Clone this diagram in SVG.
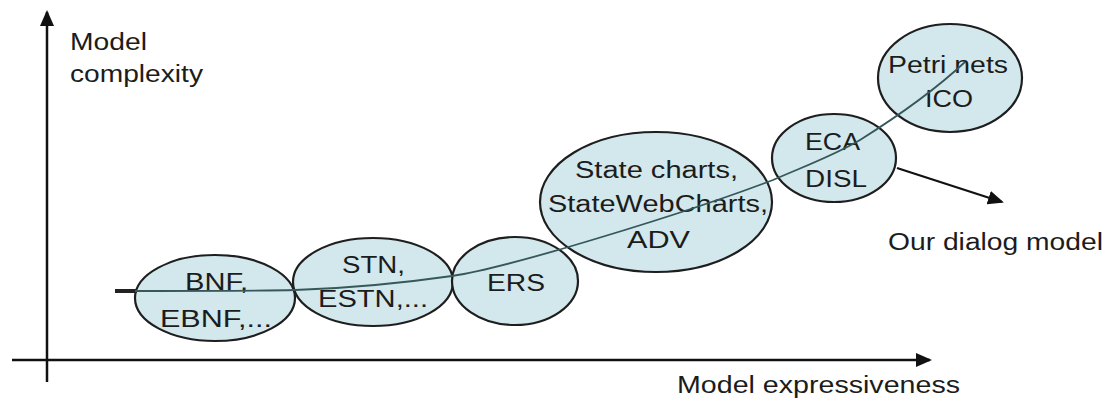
<svg xmlns="http://www.w3.org/2000/svg" width="1110" height="401" viewBox="0 0 1110 401">
<style>
.n{fill:#d2e8ec;stroke:#1e1e1e;stroke-width:2.2}
.t{font-family:"Liberation Sans",Arial,sans-serif;font-size:23px;fill:#1c1c1c}
.ax{stroke:#111;stroke-width:2.5;fill:none}
.cv{stroke:#36585a;stroke-width:1.8;fill:none}
</style>
<defs>
<marker id="ah" markerWidth="10" markerHeight="10" refX="8" refY="5" orient="auto" markerUnits="userSpaceOnUse" viewBox="0 0 10 10">
<path d="M0,0 L10,5 L0,10 z" fill="#111"/>
</marker>
<marker id="ah2" markerWidth="16" markerHeight="14" refX="14" refY="7" orient="auto" markerUnits="userSpaceOnUse" viewBox="0 0 16 14">
<path d="M0,0 L16,7 L0,14 z" fill="#111"/>
</marker>
</defs>
<g id="axes">
<line class="ax" x1="47" y1="382" x2="47" y2="12" marker-end="url(#ah2)"/>
<line class="ax" x1="12" y1="360" x2="930" y2="360" marker-end="url(#ah2)"/>
<text class="t" x="70" y="50" textLength="77" lengthAdjust="spacingAndGlyphs">Model</text>
<text class="t" x="70" y="82" textLength="133" lengthAdjust="spacingAndGlyphs">complexity</text>
<text class="t" x="677" y="393" textLength="283" lengthAdjust="spacingAndGlyphs">Model expressiveness</text>
</g>
<g id="node-bnf">
<ellipse class="n" cx="215" cy="298" rx="80" ry="43"/>
<text class="t" x="185" y="290" textLength="63" lengthAdjust="spacingAndGlyphs">BNF,</text>
<text class="t" x="160" y="327" textLength="112" lengthAdjust="spacingAndGlyphs">EBNF,...</text>
</g>
<g id="node-stn">
<ellipse class="n" cx="373" cy="282" rx="80" ry="44"/>
<text class="t" x="342" y="273" textLength="63" lengthAdjust="spacingAndGlyphs">STN,</text>
<text class="t" x="318" y="307" textLength="110" lengthAdjust="spacingAndGlyphs">ESTN,...</text>
</g>
<g id="node-ers">
<ellipse class="n" cx="515" cy="281" rx="63" ry="44"/>
<text class="t" x="487" y="291" textLength="58" lengthAdjust="spacingAndGlyphs">ERS</text>
</g>
<g id="node-statecharts">
<ellipse class="n" cx="656" cy="202" rx="116" ry="70"/>
<text class="t" x="575" y="178" textLength="163" lengthAdjust="spacingAndGlyphs">State charts,</text>
<text class="t" x="548" y="212" textLength="220" lengthAdjust="spacingAndGlyphs">StateWebCharts,</text>
<text class="t" x="627" y="248" textLength="63" lengthAdjust="spacingAndGlyphs">ADV</text>
</g>
<g id="node-eca">
<ellipse class="n" cx="834" cy="158" rx="62" ry="44"/>
<text class="t" x="805" y="150" textLength="55" lengthAdjust="spacingAndGlyphs">ECA</text>
<text class="t" x="805" y="187" textLength="62" lengthAdjust="spacingAndGlyphs">DISL</text>
</g>
<g id="node-petri">
<ellipse class="n" cx="950" cy="78" rx="72" ry="54"/>
<text class="t" x="888" y="73" textLength="120" lengthAdjust="spacingAndGlyphs">Petri nets</text>
<text class="t" x="925" y="107" textLength="48" lengthAdjust="spacingAndGlyphs">ICO</text>
</g>
<g id="label-our">
<text class="t" x="888" y="250" textLength="215" lengthAdjust="spacingAndGlyphs">Our dialog model</text>
</g>
<g id="connectors">
<line x1="115" y1="291" x2="137" y2="291" stroke="#222" stroke-width="4"/>
<path class="cv" d="M135,291 C220,291 260,291 295,290 C360,288 410,282 452,276 C490,270 530,258 565,248 C640,226 710,204 773,180 C805,166 835,155 860,140 C895,118 935,90 965,62"/>
<line x1="897" y1="168" x2="1002" y2="202" stroke="#111" stroke-width="2.2" marker-end="url(#ah2)"/>
</g>
</svg>
